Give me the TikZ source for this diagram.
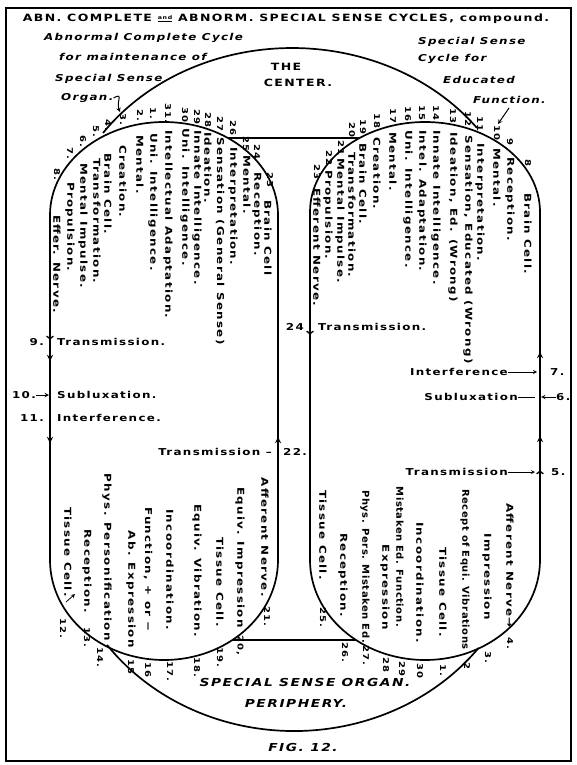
\documentclass[tikz,border=0pt]{standalone}
\usepackage{fontspec}
\setmainfont[FakeStretch=1.25, LetterSpace=14]{DejaVu Sans}
\newfontfamily\narrowfont[FakeStretch=1.05, LetterSpace=6]{DejaVu Sans}

\begin{document}
\begin{tikzpicture}[x=1pt, y=-1pt, >=stealth,
    lbl/.style={font=\fontsize{9.5}{10}\selectfont\bfseries, inner sep=0pt},
    capt/.style={font=\fontsize{9.5}{10}\selectfont\bfseries\itshape, inner sep=0pt},
    vhead/.style={lbl, rotate=-90, anchor=west},
    vtail/.style={lbl, rotate=-90, anchor=east},
    vnarrow/.style={vtail, font=\fontsize{9.5}{10}\narrowfont\bfseries},
    num/.style={rotate=-90, inner sep=0pt, font=\fontsize{8}{8}\selectfont\bfseries},
    ring/.style={line width=1.7pt}]
    \fill[white] (0,0) rectangle (577,765);
    \useasboundingbox (0,0) rectangle (577,765);
    \draw[line width=1.5pt] (6,8) rectangle (571,761);

    % headings
    \node[lbl, font=\fontsize{10}{10}\selectfont\bfseries] (title) at (286,19) {ABN. COMPLETE \raisebox{2.5pt}{\fontsize{5}{5}\selectfont\underline{and}} ABNORM. SPECIAL SENSE CYCLES, compound.};
    \node[capt, anchor=west] (abn1) at (44,38) {Abnormal Complete Cycle};
    \node[capt, anchor=west] (abn2) at (59,57) {for maintenance of};
    \node[capt, anchor=west] (abn3) at (55,79) {Special Sense};
    \node[capt, anchor=west] (abn4) at (61,98) {Organ.};
    \node[capt, anchor=west] (edu1) at (418,42) {Special Sense};
    \node[capt, anchor=west] (edu2) at (418,59) {Cycle for};
    \node[capt, anchor=west] (edu3) at (443,80) {Educated};
    \node[capt, anchor=west] (edu4) at (473,100) {Function.};
    \node[lbl, font=\fontsize{10}{10}\selectfont\bfseries] (the) at (286,67) {THE};
    \node[lbl, font=\fontsize{10}{10}\selectfont\bfseries] (center) at (298,83) {CENTER.};
    \node[capt, font=\fontsize{11}{11}\selectfont\bfseries\itshape] (organ) at (305,682) {SPECIAL SENSE ORGAN.};
    \node[capt, font=\fontsize{11}{11}\selectfont\bfseries\itshape] (periph) at (296,703) {PERIPHERY.};
    \node[capt, font=\fontsize{11}{11}\selectfont\bfseries\itshape] (fig) at (303,747) {FIG. 12.};

    % the two cycles and the outer cycle
    \draw[ring] (50,215) arc[start angle=180, end angle=360, x radius=114, y radius=93]
        -- (278,560) arc[start angle=0, end angle=180, x radius=114, y radius=100] -- cycle;
    \draw[ring] (310,212) arc[start angle=180, end angle=360, x radius=115, y radius=90]
        -- (540,560) arc[start angle=0, end angle=180, x radius=115, y radius=100] -- cycle;
    \draw[ring] (103,133) arc[start angle=215.4, end angle=322.8, x radius=232, y radius=202];
    \draw[ring] (478.6,647.9) arc[start angle=37.3, end angle=143.7, x radius=232, y radius=211];
    \coordinate (lhtop) at (228,138);
    \coordinate (rhtop) at (360,138);
    \coordinate (lhbot) at (232,640);
    \coordinate (rhbot) at (356,640);
    \draw[ring] (lhtop) -- (rhtop);
    \draw[ring] (lhbot) -- (rhbot);

    % pointers
    \coordinate (organtip) at (120,112);
    \draw[line width=1pt, ->] (abn4.east) .. controls (124,92) and (116,102) .. (organtip);
    \coordinate (funa) at (509,108);
    \coordinate (funb) at (498,124);
    \draw[line width=1pt, ->] (funa) -- (funb);

    % left side
    \draw[ring, -to] (50,330) -- (50,340);
    \draw[ring, ->] (50,351) -- (50,361);
    \draw[ring, ->] (50,433) -- (50,443);
    \node[lbl, anchor=east] (n9) at (44,342) {9.};
    \node[lbl, anchor=west] (t9) at (57,342) {Transmission.};
    \node[lbl, anchor=east] (n10) at (36,395) {10.};
    \coordinate (p10) at (49,395);
    \draw[line width=1pt, ->] (n10.east) -- (p10);
    \node[lbl, anchor=west] (t10) at (57,395) {Subluxation.};
    \node[lbl, anchor=east] (n11) at (44,418) {11.};
    \node[lbl, anchor=west] (t11) at (57,418) {Interference.};

    % middle lines
    \draw[ring, -to] (310,325) -- (310,335);
    \node[lbl, anchor=east] (n24) at (304,327) {24};
    \node[lbl, anchor=west] (t24) at (318,327) {Transmission.};
    \draw[ring, ->] (278,447) -- (278,437);
    \node[lbl, anchor=east] (t22) at (272,452) {Transmission –};
    \node[lbl, anchor=west] (n22) at (283,452) {22.};

    % right side
    \draw[ring, ->] (540,362) -- (540,352);
    \draw[ring, ->] (540,446) -- (540,436);
    \draw[ring, -to] (540,480) -- (540,470);
    \node[lbl, anchor=east] (t7) at (508,372) {Interference};
    \node[lbl, anchor=west] (n7) at (550,372) {7.};
    \coordinate (p7) at (537,372);
    \draw[line width=0.8pt, ->] (t7.east) -- (p7);
    \node[lbl, anchor=east] (t6) at (518,397) {Subluxation};
    \node[lbl, anchor=west] (n6) at (556,397) {6.};
    \coordinate (p6a) at (535,397);
    \coordinate (p6b) at (541,397);
    \draw[line width=0.8pt] (t6.east) -- (p6a);
    \draw[line width=1pt, ->] (n6.west) -- (p6b);
    \node[lbl, anchor=east] (t5) at (508,472) {Transmission};
    \node[lbl, anchor=west] (n5) at (551,472) {5.};
    \coordinate (p5) at (535,472);
    \draw[line width=0.8pt, ->] (t5.east) -- (p5);

    % abnormal cycle, brain end
    \node[vhead] (l23) at (268,200) {Brain Cell};
    \node[vhead] (l24) at (257,172) {Reception.};
    \node[vhead] (l25) at (247,155) {Mental.};
    \node[vhead] (l26) at (233,147) {Interpretation.};
    \node[vhead] (l27) at (220,137) {Sensation (General Sense)};
    \node[vhead] (l28) at (208,132) {Ideation.};
    \node[vhead] (l29) at (197,130) {Innate Intelligence.};
    \node[vhead] (l30) at (185,128) {Uni. Intelligence.};
    \node[vhead] (l31) at (168,130) {Intellectual Adaptation.};
    \node[vhead] (l1) at (153,133) {Uni. Intelligence.};
    \node[vhead] (l2) at (140,135) {Mental.};
    \node[vhead] (l3) at (123,145) {Creation.};
    \node[vhead] (l4) at (108,153) {Brain Cell.};
    \node[vhead] (l5) at (97,158) {Transformation.};
    \node[vhead] (l6) at (83,163) {Mental Impulse.};
    \node[vhead] (l7) at (70,182) {Propulsion.};
    \node[vhead] (l8) at (57,215) {Effer. Nerve.};
    \node[num] (nl23) at (270,180) {23};
    \node[num] (nl24) at (257,152) {24};
    \node[num] (nl25) at (246,144) {25};
    \node[num] (nl26) at (233,128) {26};
    \node[num] (nl27) at (220,124) {27};
    \node[num] (nl28) at (208,120) {28};
    \node[num] (nl29) at (197,117) {29};
    \node[num] (nl30) at (185,115) {30};
    \node[num] (nl31) at (168,113) {31.};
    \node[num] (nl1) at (153,113) {1.};
    \node[num] (nl2) at (140,115) {2.};
    \node[num] (nl3) at (123,119) {3.};
    \node[num] (nl4) at (108,125) {4.};
    \node[num] (nl5) at (96,131) {5.};
    \node[num] (nl6) at (83,141) {6.};
    \node[num] (nl7) at (70,153) {7.};
    \node[num] (nl8) at (57,174) {8.};

    % educated cycle, brain end
    \node[vhead] (r8) at (528,193) {Brain Cell.};
    \node[vhead] (r9) at (510,157) {Reception.};
    \node[vhead] (r10) at (497,148) {Mental.};
    \node[vhead] (r11) at (480,143) {Interpretation.};
    \node[vhead] (r12) at (468,135) {Sensation, Educated (Wrong)};
    \node[vhead] (r13) at (453,132) {Ideation, Ed. (Wrong)};
    \node[vhead] (r14) at (436,130) {Innate Intelligence.};
    \node[vhead] (r15) at (422,130) {Intel. Adaptation.};
    \node[vhead] (r16) at (408,130) {Uni. Intelligence.};
    \node[vhead] (r17) at (393,132) {Mental.};
    \node[vhead] (r18) at (377,137) {Creation.};
    \node[vhead] (r19) at (363,143) {Brain Cell.};
    \node[vhead] (r20) at (352,152) {Transformation.};
    \node[vhead] (r21) at (340,158) {Mental Impulse.};
    \node[vhead] (r22) at (328,170) {Propulsion.};
    \node[vhead] (r23) at (317,188) {Efferent Nerve.};
    \node[num] (nr8) at (528,163) {8};
    \node[num] (nr9) at (510,142) {9};
    \node[num] (nr10) at (497,133) {10};
    \node[num] (nr11) at (480,124) {11};
    \node[num] (nr12) at (468,119) {12};
    \node[num] (nr13) at (453,116) {13};
    \node[num] (nr14) at (436,113) {14};
    \node[num] (nr15) at (422,113) {15};
    \node[num] (nr16) at (408,114) {16};
    \node[num] (nr17) at (393,116) {17};
    \node[num] (nr18) at (377,121) {18};
    \node[num] (nr19) at (363,127) {19};
    \node[num] (nr20) at (352,130) {20};
    \node[num] (nr21) at (341,148) {21};
    \node[num] (nr22) at (329,158) {22};
    \node[num] (nr23) at (317,172) {23};

    % abnormal cycle, tissue end
    \node[vtail] (lb21) at (265,597) {Afferent Nerve.};
    \node[vtail] (lb20) at (240,628) {Equiv. Impression};
    \node[vtail] (lb19) at (220,627) {Tissue Cell.};
    \node[vtail] (lb18) at (197,637) {Equiv. Vibration.};
    \node[vtail] (lb17) at (170,630) {Incoordination.};
    \node[vtail] (lb16) at (148,632) {Function, + or −};
    \node[vtail] (lb15) at (131,648) {Ab. Expression};
    \node[vtail] (lb14) at (107,641) {Phys. Personification};
    \node[vtail] (lb13) at (87,613) {Reception.};
    \node[vtail] (lb12) at (68,597) {Tissue Cell.};
    \node[num] (nlb21) at (267,616) {21.};
    \node[num] (nlb20) at (240,645) {20,};
    \node[num] (nlb19) at (220,657) {19.};
    \node[num] (nlb18) at (197,667) {18.};
    \node[num] (nlb17) at (170,671) {17.};
    \node[num] (nlb16) at (148,670) {16};
    \node[num] (nlb15) at (131,667) {15};
    \node[num] (nlb14) at (100,657) {14.};
    \node[num] (nlb13) at (87,637) {13.};
    \node[num] (nlb12) at (63,628) {12.};
    \coordinate (t12a) at (66,602);
    \coordinate (t12b) at (75,594);
    \draw[line width=0.8pt, ->] (t12a) -- (t12b);

    % educated cycle, tissue end
    \node[vtail] (rb4) at (510,628) {Afferent Nerve→};
    \node[vtail] (rb3) at (487,620) {Impression};
    \node[vnarrow] (rb2) at (465,650) {Recept of Equi. Vibrations};
    \node[vtail] (rb1) at (443,637) {Tissue Cell.};
    \node[vtail] (rb30) at (420,643) {Incoordination.};
    \node[vnarrow] (rb29) at (400,627) {Mistaken Ed. Function.};
    \node[vtail] (rb28) at (385,630) {Expression};
    \node[vnarrow] (rb27) at (365,643) {Phys. Pers. Mistaken Ed.};
    \node[vtail] (rb26) at (343,617) {Reception.};
    \node[vtail] (rb25) at (323,580) {Tissue Cell.};
    \node[num] (nrb4) at (510,643) {4.};
    \node[num] (nrb3) at (488,657) {3.};
    \node[num] (nrb2) at (467,666) {2};
    \node[num] (nrb1) at (443,670) {1.};
    \node[num] (nrb30) at (420,671) {30};
    \node[num] (nrb29) at (402,669) {29};
    \node[num] (nrb28) at (386,665) {28};
    \node[num] (nrb27) at (366,655) {27.};
    \node[num] (nrb26) at (345,652) {26.};
    \node[num] (nrb25) at (323,617) {25.};
\end{tikzpicture}
\end{document}
